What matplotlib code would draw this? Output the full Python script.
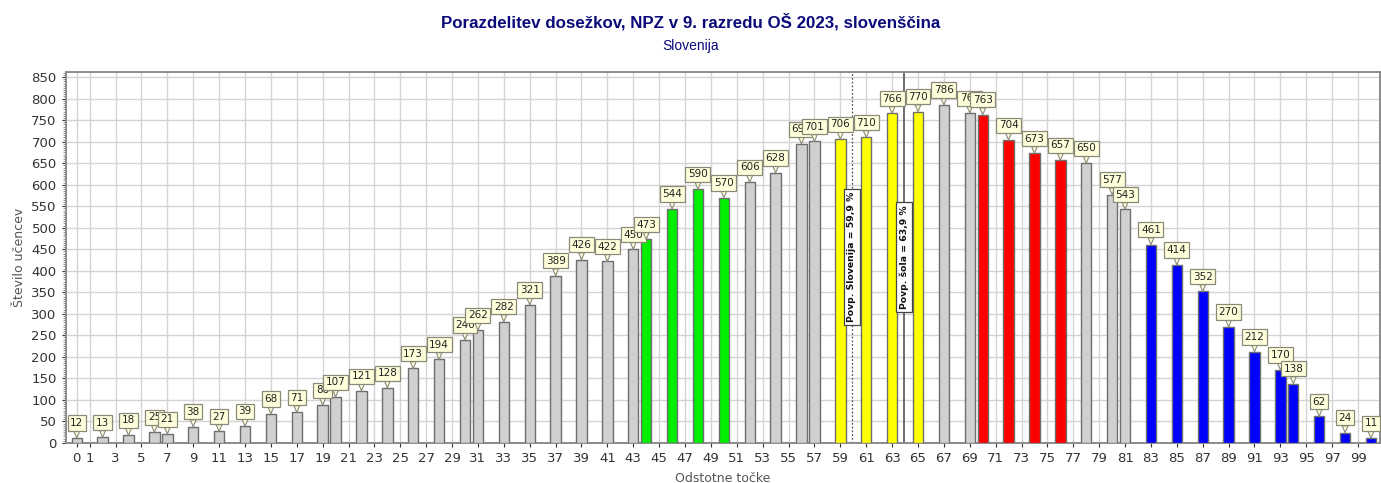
import matplotlib
matplotlib.use("Agg")
import matplotlib.pyplot as plt
from matplotlib.ticker import MultipleLocator

plt.rcParams["font.family"] = ["DejaVu Sans"]

# odstotne točke in število učencev
tocke = [0, 2, 4, 6, 7, 9, 11, 13, 15, 17, 19, 20, 22, 24, 26, 28, 30, 31, 33, 35,
         37, 39, 41, 43, 44, 46, 48, 50, 52, 54, 56, 57, 59, 61, 63, 65, 67, 69, 70, 72,
         74, 76, 78, 80, 81, 83, 85, 87, 89, 91, 93, 94, 96, 98, 100]
ucenci = [12, 13, 18, 25, 21, 38, 27, 39, 68, 71, 88, 107, 121, 128, 173, 194, 240, 262, 282, 321,
          389, 426, 422, 450, 473, 544, 590, 570, 606, 628, 695, 701, 706, 710, 766, 770, 786, 767, 763, 704,
          673, 657, 650, 577, 543, 461, 414, 352, 270, 212, 170, 138, 62, 24, 11]
# skupine (obarvani stolpci)
skupina = ["", "", "", "", "", "", "", "", "", "", "", "", "", "", "", "", "", "", "", "",
           "", "", "", "", "z", "z", "z", "z", "", "", "", "", "r", "r", "r", "r", "", "", "c", "c",
           "c", "c", "", "", "", "m", "m", "m", "m", "m", "m", "m", "m", "m", "m"]
barve = {"": "#d0d0d0", "z": "#00ee00", "r": "#ffff00", "c": "#ff0000", "m": "#0000ff"}

x_oznake = [0] + list(range(1, 100, 2))
povp_slo = 59.9
povp_sola = 63.9
naslov = "Porazdelitev dosežkov, NPZ v 9. razredu OŠ 2023, slovenščina"
podnaslov = "Slovenija"

fig = plt.figure(figsize=(13.81, 4.83), dpi=100)
ax = fig.add_axes([0.0476, 0.083, 0.9517, 0.768])

for i, (x, v, s) in enumerate(zip(tocke, ucenci, skupina)):
    ax.bar(x, v, width=0.8, color=barve[s], edgecolor="#6e6e6e", linewidth=1.0, zorder=3)
    ax.annotate(str(v), xy=(x, v), xytext=(0, 7), textcoords="offset points",
                ha="center", va="bottom", fontsize=7.5, color="#222222", zorder=10 + i,
                bbox=dict(boxstyle="square,pad=0.25", fc="#ffffdc", ec="#8a8a7a", lw=0.9),
                arrowprops=dict(arrowstyle="wedge,tail_width=0.55,shrink_factor=0.5",
                                fc="#ffffdc", ec="#8a8a7a", lw=0.8, shrinkA=0, shrinkB=0))

# povprečji
ax.axvline(povp_slo, color="#555555", lw=0.9, ls=(0, (1.5, 1.5)), zorder=2)
ax.axvline(povp_sola, color="#555555", lw=1.2, zorder=2)
for xm, txt in [(povp_slo, "Povp. Slovenija = 59,9 %"), (povp_sola, "Povp. šola = 63,9 %")]:
    ax.text(xm, 432, txt, rotation=90, ha="center", va="center", fontsize=6.7,
            fontweight="bold", color="#111111", zorder=80,
            bbox=dict(boxstyle="square,pad=0.35", fc="white", ec="#444444", lw=0.9))

ax.set_xlim(-0.85, 100.7)
ax.set_ylim(0, 862)
ax.set_xticks(x_oznake)
ax.set_xticklabels([str(t) for t in x_oznake])
ax.yaxis.set_major_locator(MultipleLocator(50))
ax.yaxis.set_minor_locator(MultipleLocator(5))
ax.tick_params(axis="both", labelsize=9.5, colors="#333333", length=3, width=0.8)
ax.tick_params(axis="y", which="minor", length=2, width=0.6, colors="#888888")
ax.tick_params(axis="x", length=3)
ax.grid(True, which="major", color="#d4d4d4", lw=1.0, zorder=0)
ax.set_axisbelow(True)
for sp in ax.spines.values():
    sp.set_color("#8c8c8c")
    sp.set_linewidth(1.4)

ax.set_ylabel("Število učencev", fontsize=9, color="#555555", labelpad=4)
ax.set_xlabel("Odstotne točke", fontsize=9, color="#555555", labelpad=5)

fig.text(0.5, 0.956, naslov, ha="center", va="center", fontsize=12.2, fontweight="bold",
         color="#0a0a7a", family="Liberation Sans")
fig.text(0.5, 0.905, podnaslov, ha="center", va="center", fontsize=10,
         color="#0a0a7a", family="Liberation Sans")

fig.savefig("out.png", dpi=100)
